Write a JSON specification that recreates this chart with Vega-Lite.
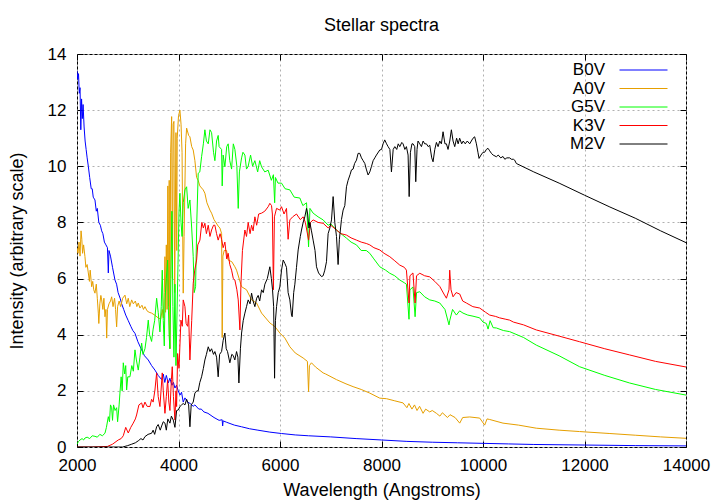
{
"$schema":"https://vega.github.io/schema/vega-lite/v6.json",
"width":609,"height":393,
"autosize":{"type":"none"},
"padding":{"left":77,"top":54,"right":34,"bottom":57},
"background":"white",
"title":{"text":"Stellar spectra","fontSize":18,"fontWeight":"normal","font":"Liberation Sans","color":"black","offset":10},
"datasets":{"spectra":[
{"s":"B0V","w":2000,"f":13.4},{"s":"B0V","w":2015,"f":13.1},{"s":"B0V","w":2030,"f":13.3},{"s":"B0V","w":2045,"f":12.6},{"s":"B0V","w":2060,"f":12.8},{"s":"B0V","w":2075,"f":11.3},{"s":"B0V","w":2090,"f":12.4},{"s":"B0V","w":2105,"f":11.7},{"s":"B0V","w":2120,"f":12.2},{"s":"B0V","w":2140,"f":11.4},{"s":"B0V","w":2160,"f":10.9},{"s":"B0V","w":2180,"f":10.6},{"s":"B0V","w":2200,"f":10.3},{"s":"B0V","w":2223,"f":10.0},{"s":"B0V","w":2250,"f":9.6},{"s":"B0V","w":2280,"f":9.2},{"s":"B0V","w":2300,"f":9.2},{"s":"B0V","w":2320,"f":8.9},{"s":"B0V","w":2354,"f":8.8},{"s":"B0V","w":2380,"f":8.4},{"s":"B0V","w":2400,"f":8.5},{"s":"B0V","w":2430,"f":8.0},{"s":"B0V","w":2460,"f":7.9},{"s":"B0V","w":2486,"f":7.7},{"s":"B0V","w":2510,"f":7.6},{"s":"B0V","w":2540,"f":7.3},{"s":"B0V","w":2570,"f":7.2},{"s":"B0V","w":2600,"f":7.1},{"s":"B0V","w":2617,"f":6.2},{"s":"B0V","w":2630,"f":7.0},{"s":"B0V","w":2660,"f":6.8},{"s":"B0V","w":2700,"f":6.4},{"s":"B0V","w":2748,"f":5.95},{"s":"B0V","w":2780,"f":5.8},{"s":"B0V","w":2810,"f":5.5},{"s":"B0V","w":2850,"f":5.3},{"s":"B0V","w":2880,"f":5.1},{"s":"B0V","w":2920,"f":4.9},{"s":"B0V","w":2960,"f":4.7},{"s":"B0V","w":3010,"f":4.5},{"s":"B0V","w":3060,"f":4.3},{"s":"B0V","w":3100,"f":4.15},{"s":"B0V","w":3142,"f":4.05},{"s":"B0V","w":3200,"f":3.75},{"s":"B0V","w":3274,"f":3.46},{"s":"B0V","w":3330,"f":3.25},{"s":"B0V","w":3404,"f":3.1},{"s":"B0V","w":3470,"f":2.9},{"s":"B0V","w":3536,"f":2.74},{"s":"B0V","w":3600,"f":2.55},{"s":"B0V","w":3668,"f":2.4},{"s":"B0V","w":3700,"f":2.6},{"s":"B0V","w":3730,"f":2.3},{"s":"B0V","w":3760,"f":2.55},{"s":"B0V","w":3798,"f":2.28},{"s":"B0V","w":3830,"f":2.45},{"s":"B0V","w":3870,"f":2.2},{"s":"B0V","w":3900,"f":2.3},{"s":"B0V","w":3930,"f":2.1},{"s":"B0V","w":3960,"f":2.2},{"s":"B0V","w":3995,"f":2.0},{"s":"B0V","w":4030,"f":1.85},{"s":"B0V","w":4060,"f":1.95},{"s":"B0V","w":4093,"f":1.6},{"s":"B0V","w":4127,"f":1.75},{"s":"B0V","w":4180,"f":1.6},{"s":"B0V","w":4230,"f":1.55},{"s":"B0V","w":4290,"f":1.45},{"s":"B0V","w":4323,"f":1.5},{"s":"B0V","w":4400,"f":1.35},{"s":"B0V","w":4450,"f":1.35},{"s":"B0V","w":4500,"f":1.25},{"s":"B0V","w":4580,"f":1.2},{"s":"B0V","w":4700,"f":1.05},{"s":"B0V","w":4800,"f":0.95},{"s":"B0V","w":4860,"f":0.97},{"s":"B0V","w":4870,"f":0.75},{"s":"B0V","w":4880,"f":0.93},{"s":"B0V","w":4950,"f":0.88},{"s":"B0V","w":5100,"f":0.78},{"s":"B0V","w":5243,"f":0.72},{"s":"B0V","w":5400,"f":0.65},{"s":"B0V","w":5564,"f":0.6},{"s":"B0V","w":5800,"f":0.53},{"s":"B0V","w":6030,"f":0.48},{"s":"B0V","w":6300,"f":0.43},{"s":"B0V","w":6560,"f":0.4},{"s":"B0V","w":7000,"f":0.36},{"s":"B0V","w":7500,"f":0.3},{"s":"B0V","w":8000,"f":0.25},{"s":"B0V","w":8500,"f":0.2},{"s":"B0V","w":9000,"f":0.17},{"s":"B0V","w":9500,"f":0.15},{"s":"B0V","w":10000,"f":0.13},{"s":"B0V","w":10500,"f":0.11},{"s":"B0V","w":11000,"f":0.09},{"s":"B0V","w":12000,"f":0.07},{"s":"B0V","w":13000,"f":0.05},{"s":"B0V","w":14000,"f":0.04},
{"s":"A0V","w":2000,"f":7.1},{"s":"A0V","w":2020,"f":6.9},{"s":"A0V","w":2040,"f":7.3},{"s":"A0V","w":2060,"f":6.8},{"s":"A0V","w":2080,"f":7.7},{"s":"A0V","w":2095,"f":7.4},{"s":"A0V","w":2110,"f":6.9},{"s":"A0V","w":2130,"f":7.2},{"s":"A0V","w":2157,"f":6.78},{"s":"A0V","w":2175,"f":6.4},{"s":"A0V","w":2200,"f":6.5},{"s":"A0V","w":2223,"f":6.2},{"s":"A0V","w":2245,"f":5.9},{"s":"A0V","w":2260,"f":6.3},{"s":"A0V","w":2289,"f":5.71},{"s":"A0V","w":2310,"f":5.9},{"s":"A0V","w":2330,"f":5.6},{"s":"A0V","w":2354,"f":5.48},{"s":"A0V","w":2380,"f":5.8},{"s":"A0V","w":2400,"f":5.3},{"s":"A0V","w":2420,"f":4.77},{"s":"A0V","w":2430,"f":4.4},{"s":"A0V","w":2450,"f":5.1},{"s":"A0V","w":2470,"f":5.4},{"s":"A0V","w":2486,"f":5.24},{"s":"A0V","w":2510,"f":4.9},{"s":"A0V","w":2530,"f":5.3},{"s":"A0V","w":2551,"f":4.64},{"s":"A0V","w":2570,"f":4.9},{"s":"A0V","w":2585,"f":3.88},{"s":"A0V","w":2600,"f":4.9},{"s":"A0V","w":2630,"f":5.1},{"s":"A0V","w":2660,"f":5.2},{"s":"A0V","w":2683,"f":5.35},{"s":"A0V","w":2710,"f":5.0},{"s":"A0V","w":2740,"f":5.3},{"s":"A0V","w":2760,"f":4.9},{"s":"A0V","w":2781,"f":4.28},{"s":"A0V","w":2800,"f":5.0},{"s":"A0V","w":2830,"f":5.2},{"s":"A0V","w":2860,"f":5.0},{"s":"A0V","w":2900,"f":5.3},{"s":"A0V","w":2945,"f":5.41},{"s":"A0V","w":2980,"f":5.1},{"s":"A0V","w":3010,"f":5.3},{"s":"A0V","w":3040,"f":5.0},{"s":"A0V","w":3077,"f":5.24},{"s":"A0V","w":3110,"f":5.1},{"s":"A0V","w":3150,"f":5.2},{"s":"A0V","w":3180,"f":5.0},{"s":"A0V","w":3207,"f":5.13},{"s":"A0V","w":3240,"f":4.95},{"s":"A0V","w":3280,"f":5.05},{"s":"A0V","w":3310,"f":4.9},{"s":"A0V","w":3339,"f":5.0},{"s":"A0V","w":3380,"f":4.85},{"s":"A0V","w":3420,"f":4.8},{"s":"A0V","w":3470,"f":4.77},{"s":"A0V","w":3530,"f":4.7},{"s":"A0V","w":3600,"f":4.6},{"s":"A0V","w":3650,"f":4.55},{"s":"A0V","w":3680,"f":4.9},{"s":"A0V","w":3700,"f":4.6},{"s":"A0V","w":3720,"f":5.5},{"s":"A0V","w":3733,"f":6.78},{"s":"A0V","w":3745,"f":4.8},{"s":"A0V","w":3760,"f":7.2},{"s":"A0V","w":3775,"f":4.9},{"s":"A0V","w":3790,"f":9.3},{"s":"A0V","w":3805,"f":5.0},{"s":"A0V","w":3817,"f":9.5},{"s":"A0V","w":3830,"f":3.5},{"s":"A0V","w":3845,"f":10.5},{"s":"A0V","w":3865,"f":11.77},{"s":"A0V","w":3880,"f":6.0},{"s":"A0V","w":3895,"f":11.5},{"s":"A0V","w":3910,"f":11.6},{"s":"A0V","w":3925,"f":5.5},{"s":"A0V","w":3950,"f":11.2},{"s":"A0V","w":3965,"f":7.0},{"s":"A0V","w":3975,"f":11.0},{"s":"A0V","w":4000,"f":11.8},{"s":"A0V","w":4028,"f":12.0},{"s":"A0V","w":4050,"f":11.5},{"s":"A0V","w":4070,"f":10.5},{"s":"A0V","w":4093,"f":5.48},{"s":"A0V","w":4110,"f":7.5},{"s":"A0V","w":4140,"f":10.8},{"s":"A0V","w":4160,"f":11.36},{"s":"A0V","w":4200,"f":11.1},{"s":"A0V","w":4225,"f":11.05},{"s":"A0V","w":4260,"f":10.7},{"s":"A0V","w":4290,"f":10.58},{"s":"A0V","w":4323,"f":10.2},{"s":"A0V","w":4357,"f":9.6},{"s":"A0V","w":4388,"f":9.5},{"s":"A0V","w":4420,"f":9.3},{"s":"A0V","w":4487,"f":9.16},{"s":"A0V","w":4520,"f":9.04},{"s":"A0V","w":4560,"f":8.7},{"s":"A0V","w":4619,"f":8.44},{"s":"A0V","w":4652,"f":8.33},{"s":"A0V","w":4700,"f":8.1},{"s":"A0V","w":4782,"f":7.87},{"s":"A0V","w":4816,"f":7.8},{"s":"A0V","w":4850,"f":7.6},{"s":"A0V","w":4861,"f":3.9},{"s":"A0V","w":4875,"f":6.8},{"s":"A0V","w":4900,"f":7.0},{"s":"A0V","w":4947,"f":7.0},{"s":"A0V","w":4979,"f":6.66},{"s":"A0V","w":5050,"f":6.6},{"s":"A0V","w":5111,"f":6.42},{"s":"A0V","w":5144,"f":6.3},{"s":"A0V","w":5243,"f":5.71},{"s":"A0V","w":5341,"f":5.6},{"s":"A0V","w":5440,"f":5.24},{"s":"A0V","w":5538,"f":5.13},{"s":"A0V","w":5637,"f":4.77},{"s":"A0V","w":5800,"f":4.42},{"s":"A0V","w":5899,"f":4.29},{"s":"A0V","w":5997,"f":4.06},{"s":"A0V","w":6096,"f":3.88},{"s":"A0V","w":6194,"f":3.57},{"s":"A0V","w":6300,"f":3.35},{"s":"A0V","w":6456,"f":3.17},{"s":"A0V","w":6540,"f":3.05},{"s":"A0V","w":6563,"f":1.97},{"s":"A0V","w":6580,"f":2.9},{"s":"A0V","w":6620,"f":3.0},{"s":"A0V","w":6700,"f":2.85},{"s":"A0V","w":6850,"f":2.64},{"s":"A0V","w":6900,"f":2.6},{"s":"A0V","w":7113,"f":2.4},{"s":"A0V","w":7300,"f":2.25},{"s":"A0V","w":7440,"f":2.15},{"s":"A0V","w":7600,"f":2.05},{"s":"A0V","w":7769,"f":1.92},{"s":"A0V","w":7966,"f":1.74},{"s":"A0V","w":8100,"f":1.72},{"s":"A0V","w":8250,"f":1.65},{"s":"A0V","w":8425,"f":1.57},{"s":"A0V","w":8500,"f":1.4},{"s":"A0V","w":8540,"f":1.55},{"s":"A0V","w":8600,"f":1.35},{"s":"A0V","w":8650,"f":1.5},{"s":"A0V","w":8700,"f":1.3},{"s":"A0V","w":8750,"f":1.45},{"s":"A0V","w":8819,"f":1.2},{"s":"A0V","w":8870,"f":1.35},{"s":"A0V","w":8950,"f":1.25},{"s":"A0V","w":9000,"f":1.3},{"s":"A0V","w":9082,"f":1.2},{"s":"A0V","w":9150,"f":1.1},{"s":"A0V","w":9200,"f":1.22},{"s":"A0V","w":9300,"f":1.05},{"s":"A0V","w":9350,"f":1.15},{"s":"A0V","w":9450,"f":1.05},{"s":"A0V","w":9541,"f":0.85},{"s":"A0V","w":9600,"f":1.05},{"s":"A0V","w":9738,"f":1.07},{"s":"A0V","w":9935,"f":1.03},{"s":"A0V","w":10033,"f":0.78},{"s":"A0V","w":10080,"f":1.0},{"s":"A0V","w":10132,"f":0.98},{"s":"A0V","w":10394,"f":0.85},{"s":"A0V","w":10700,"f":0.78},{"s":"A0V","w":11050,"f":0.67},{"s":"A0V","w":11500,"f":0.6},{"s":"A0V","w":11903,"f":0.55},{"s":"A0V","w":12500,"f":0.48},{"s":"A0V","w":13000,"f":0.42},{"s":"A0V","w":13500,"f":0.36},{"s":"A0V","w":14000,"f":0.31},
{"s":"G5V","w":2000,"f":0.1},{"s":"G5V","w":2030,"f":0.2},{"s":"G5V","w":2060,"f":0.25},{"s":"G5V","w":2100,"f":0.3},{"s":"G5V","w":2130,"f":0.25},{"s":"G5V","w":2157,"f":0.32},{"s":"G5V","w":2200,"f":0.35},{"s":"G5V","w":2250,"f":0.3},{"s":"G5V","w":2300,"f":0.4},{"s":"G5V","w":2354,"f":0.38},{"s":"G5V","w":2400,"f":0.35},{"s":"G5V","w":2450,"f":0.45},{"s":"G5V","w":2500,"f":0.4},{"s":"G5V","w":2551,"f":0.49},{"s":"G5V","w":2580,"f":0.7},{"s":"G5V","w":2617,"f":1.08},{"s":"G5V","w":2640,"f":0.9},{"s":"G5V","w":2660,"f":1.5},{"s":"G5V","w":2683,"f":1.4},{"s":"G5V","w":2700,"f":0.95},{"s":"G5V","w":2720,"f":1.5},{"s":"G5V","w":2750,"f":1.3},{"s":"G5V","w":2781,"f":1.4},{"s":"G5V","w":2800,"f":0.9},{"s":"G5V","w":2830,"f":1.5},{"s":"G5V","w":2846,"f":1.92},{"s":"G5V","w":2870,"f":2.5},{"s":"G5V","w":2890,"f":2.0},{"s":"G5V","w":2912,"f":3.0},{"s":"G5V","w":2940,"f":2.6},{"s":"G5V","w":2960,"f":2.9},{"s":"G5V","w":2978,"f":2.03},{"s":"G5V","w":3000,"f":2.5},{"s":"G5V","w":3043,"f":2.5},{"s":"G5V","w":3080,"f":2.9},{"s":"G5V","w":3110,"f":2.7},{"s":"G5V","w":3142,"f":3.46},{"s":"G5V","w":3170,"f":3.1},{"s":"G5V","w":3207,"f":2.74},{"s":"G5V","w":3240,"f":3.2},{"s":"G5V","w":3274,"f":3.7},{"s":"G5V","w":3300,"f":3.3},{"s":"G5V","w":3339,"f":3.5},{"s":"G5V","w":3370,"f":3.9},{"s":"G5V","w":3404,"f":4.52},{"s":"G5V","w":3430,"f":4.0},{"s":"G5V","w":3470,"f":3.76},{"s":"G5V","w":3500,"f":4.2},{"s":"G5V","w":3530,"f":4.5},{"s":"G5V","w":3569,"f":5.3},{"s":"G5V","w":3600,"f":4.8},{"s":"G5V","w":3634,"f":4.1},{"s":"G5V","w":3660,"f":5.0},{"s":"G5V","w":3680,"f":6.3},{"s":"G5V","w":3700,"f":4.5},{"s":"G5V","w":3720,"f":3.6},{"s":"G5V","w":3733,"f":5.2},{"s":"G5V","w":3760,"f":6.0},{"s":"G5V","w":3786,"f":6.66},{"s":"G5V","w":3800,"f":5.0},{"s":"G5V","w":3815,"f":4.0},{"s":"G5V","w":3831,"f":3.5},{"s":"G5V","w":3850,"f":6.0},{"s":"G5V","w":3870,"f":8.4},{"s":"G5V","w":3890,"f":5.0},{"s":"G5V","w":3910,"f":3.2},{"s":"G5V","w":3930,"f":5.8},{"s":"G5V","w":3950,"f":2.9},{"s":"G5V","w":3963,"f":4.06},{"s":"G5V","w":3990,"f":6.5},{"s":"G5V","w":4010,"f":8.4},{"s":"G5V","w":4028,"f":9.04},{"s":"G5V","w":4050,"f":8.0},{"s":"G5V","w":4070,"f":7.5},{"s":"G5V","w":4093,"f":8.7},{"s":"G5V","w":4127,"f":9.16},{"s":"G5V","w":4160,"f":9.27},{"s":"G5V","w":4190,"f":8.5},{"s":"G5V","w":4225,"f":8.8},{"s":"G5V","w":4260,"f":7.8},{"s":"G5V","w":4290,"f":6.78},{"s":"G5V","w":4310,"f":5.5},{"s":"G5V","w":4337,"f":5.71},{"s":"G5V","w":4360,"f":8.0},{"s":"G5V","w":4388,"f":9.75},{"s":"G5V","w":4420,"f":9.8},{"s":"G5V","w":4455,"f":10.34},{"s":"G5V","w":4490,"f":10.8},{"s":"G5V","w":4520,"f":11.3},{"s":"G5V","w":4550,"f":10.9},{"s":"G5V","w":4586,"f":10.8},{"s":"G5V","w":4620,"f":11.3},{"s":"G5V","w":4652,"f":11.2},{"s":"G5V","w":4690,"f":10.5},{"s":"G5V","w":4717,"f":10.2},{"s":"G5V","w":4750,"f":10.9},{"s":"G5V","w":4782,"f":11.1},{"s":"G5V","w":4800,"f":10.7},{"s":"G5V","w":4849,"f":10.6},{"s":"G5V","w":4861,"f":9.3},{"s":"G5V","w":4880,"f":10.4},{"s":"G5V","w":4914,"f":9.98},{"s":"G5V","w":4950,"f":10.7},{"s":"G5V","w":4979,"f":10.8},{"s":"G5V","w":5010,"f":10.2},{"s":"G5V","w":5046,"f":9.9},{"s":"G5V","w":5080,"f":10.8},{"s":"G5V","w":5111,"f":10.6},{"s":"G5V","w":5150,"f":10.0},{"s":"G5V","w":5177,"f":8.5},{"s":"G5V","w":5200,"f":9.8},{"s":"G5V","w":5243,"f":10.3},{"s":"G5V","w":5270,"f":10.5},{"s":"G5V","w":5308,"f":10.4},{"s":"G5V","w":5340,"f":9.9},{"s":"G5V","w":5373,"f":10.0},{"s":"G5V","w":5420,"f":10.4},{"s":"G5V","w":5460,"f":10.0},{"s":"G5V","w":5505,"f":10.2},{"s":"G5V","w":5560,"f":9.8},{"s":"G5V","w":5600,"f":10.2},{"s":"G5V","w":5637,"f":9.98},{"s":"G5V","w":5700,"f":9.8},{"s":"G5V","w":5767,"f":9.86},{"s":"G5V","w":5830,"f":9.5},{"s":"G5V","w":5870,"f":9.7},{"s":"G5V","w":5895,"f":8.7},{"s":"G5V","w":5910,"f":9.6},{"s":"G5V","w":5960,"f":9.4},{"s":"G5V","w":6030,"f":9.4},{"s":"G5V","w":6100,"f":9.2},{"s":"G5V","w":6194,"f":9.16},{"s":"G5V","w":6280,"f":8.9},{"s":"G5V","w":6391,"f":8.87},{"s":"G5V","w":6450,"f":8.6},{"s":"G5V","w":6523,"f":8.7},{"s":"G5V","w":6563,"f":7.13},{"s":"G5V","w":6590,"f":8.5},{"s":"G5V","w":6653,"f":8.33},{"s":"G5V","w":6750,"f":8.2},{"s":"G5V","w":6850,"f":8.09},{"s":"G5V","w":6950,"f":7.9},{"s":"G5V","w":7000,"f":7.95},{"s":"G5V","w":7113,"f":7.73},{"s":"G5V","w":7200,"f":7.6},{"s":"G5V","w":7310,"f":7.44},{"s":"G5V","w":7400,"f":7.3},{"s":"G5V","w":7507,"f":7.2},{"s":"G5V","w":7600,"f":7.0},{"s":"G5V","w":7700,"f":7.0},{"s":"G5V","w":7769,"f":6.9},{"s":"G5V","w":7850,"f":6.7},{"s":"G5V","w":7966,"f":6.42},{"s":"G5V","w":8080,"f":6.3},{"s":"G5V","w":8163,"f":6.19},{"s":"G5V","w":8260,"f":6.1},{"s":"G5V","w":8360,"f":5.95},{"s":"G5V","w":8450,"f":5.85},{"s":"G5V","w":8491,"f":5.8},{"s":"G5V","w":8542,"f":4.55},{"s":"G5V","w":8560,"f":5.6},{"s":"G5V","w":8620,"f":5.7},{"s":"G5V","w":8662,"f":4.64},{"s":"G5V","w":8690,"f":5.5},{"s":"G5V","w":8754,"f":5.53},{"s":"G5V","w":8850,"f":5.35},{"s":"G5V","w":8951,"f":5.24},{"s":"G5V","w":9050,"f":5.2},{"s":"G5V","w":9148,"f":5.13},{"s":"G5V","w":9250,"f":4.9},{"s":"G5V","w":9330,"f":4.35},{"s":"G5V","w":9344,"f":4.5},{"s":"G5V","w":9400,"f":4.9},{"s":"G5V","w":9475,"f":4.7},{"s":"G5V","w":9540,"f":4.85},{"s":"G5V","w":9606,"f":4.77},{"s":"G5V","w":9700,"f":4.7},{"s":"G5V","w":9803,"f":4.66},{"s":"G5V","w":9935,"f":4.6},{"s":"G5V","w":10000,"f":4.45},{"s":"G5V","w":10066,"f":4.4},{"s":"G5V","w":10100,"f":4.2},{"s":"G5V","w":10140,"f":4.5},{"s":"G5V","w":10200,"f":4.25},{"s":"G5V","w":10263,"f":4.24},{"s":"G5V","w":10400,"f":4.15},{"s":"G5V","w":10525,"f":4.11},{"s":"G5V","w":10800,"f":3.9},{"s":"G5V","w":11050,"f":3.63},{"s":"G5V","w":11500,"f":3.25},{"s":"G5V","w":11903,"f":2.86},{"s":"G5V","w":12400,"f":2.55},{"s":"G5V","w":12889,"f":2.28},{"s":"G5V","w":13400,"f":2.05},{"s":"G5V","w":14000,"f":1.85},
{"s":"K3V","w":2000,"f":0.0},{"s":"K3V","w":2300,"f":0.0},{"s":"K3V","w":2600,"f":0.02},{"s":"K3V","w":2700,"f":0.1},{"s":"K3V","w":2813,"f":0.25},{"s":"K3V","w":2870,"f":0.3},{"s":"K3V","w":2912,"f":0.4},{"s":"K3V","w":2960,"f":0.7},{"s":"K3V","w":3010,"f":0.5},{"s":"K3V","w":3060,"f":0.7},{"s":"K3V","w":3108,"f":0.85},{"s":"K3V","w":3150,"f":1.0},{"s":"K3V","w":3174,"f":1.14},{"s":"K3V","w":3220,"f":1.5},{"s":"K3V","w":3274,"f":1.57},{"s":"K3V","w":3300,"f":1.4},{"s":"K3V","w":3339,"f":1.6},{"s":"K3V","w":3380,"f":1.45},{"s":"K3V","w":3437,"f":1.44},{"s":"K3V","w":3470,"f":1.7},{"s":"K3V","w":3500,"f":1.6},{"s":"K3V","w":3536,"f":2.03},{"s":"K3V","w":3569,"f":2.64},{"s":"K3V","w":3600,"f":1.8},{"s":"K3V","w":3634,"f":1.44},{"s":"K3V","w":3680,"f":2.64},{"s":"K3V","w":3700,"f":2.0},{"s":"K3V","w":3733,"f":1.2},{"s":"K3V","w":3760,"f":1.8},{"s":"K3V","w":3786,"f":2.39},{"s":"K3V","w":3810,"f":1.6},{"s":"K3V","w":3831,"f":1.3},{"s":"K3V","w":3860,"f":2.4},{"s":"K3V","w":3877,"f":2.86},{"s":"K3V","w":3900,"f":1.8},{"s":"K3V","w":3930,"f":0.96},{"s":"K3V","w":3950,"f":2.0},{"s":"K3V","w":3963,"f":1.44},{"s":"K3V","w":3983,"f":3.33},{"s":"K3V","w":4010,"f":2.8},{"s":"K3V","w":4048,"f":4.52},{"s":"K3V","w":4074,"f":4.3},{"s":"K3V","w":4093,"f":5.24},{"s":"K3V","w":4127,"f":5.0},{"s":"K3V","w":4150,"f":4.4},{"s":"K3V","w":4180,"f":4.3},{"s":"K3V","w":4200,"f":4.7},{"s":"K3V","w":4225,"f":3.1},{"s":"K3V","w":4260,"f":4.5},{"s":"K3V","w":4290,"f":5.83},{"s":"K3V","w":4320,"f":6.3},{"s":"K3V","w":4357,"f":6.66},{"s":"K3V","w":4380,"f":7.2},{"s":"K3V","w":4422,"f":7.37},{"s":"K3V","w":4460,"f":8.0},{"s":"K3V","w":4490,"f":7.8},{"s":"K3V","w":4520,"f":7.97},{"s":"K3V","w":4550,"f":7.6},{"s":"K3V","w":4586,"f":7.9},{"s":"K3V","w":4620,"f":7.5},{"s":"K3V","w":4652,"f":7.73},{"s":"K3V","w":4690,"f":7.9},{"s":"K3V","w":4717,"f":7.9},{"s":"K3V","w":4750,"f":7.6},{"s":"K3V","w":4782,"f":7.37},{"s":"K3V","w":4820,"f":7.6},{"s":"K3V","w":4849,"f":7.4},{"s":"K3V","w":4880,"f":7.1},{"s":"K3V","w":4914,"f":7.3},{"s":"K3V","w":4950,"f":6.7},{"s":"K3V","w":4979,"f":6.9},{"s":"K3V","w":5010,"f":6.5},{"s":"K3V","w":5046,"f":6.3},{"s":"K3V","w":5080,"f":6.0},{"s":"K3V","w":5111,"f":5.95},{"s":"K3V","w":5150,"f":5.6},{"s":"K3V","w":5177,"f":5.24},{"s":"K3V","w":5210,"f":4.17},{"s":"K3V","w":5230,"f":5.8},{"s":"K3V","w":5260,"f":7.0},{"s":"K3V","w":5308,"f":7.73},{"s":"K3V","w":5340,"f":7.5},{"s":"K3V","w":5373,"f":8.0},{"s":"K3V","w":5410,"f":7.6},{"s":"K3V","w":5440,"f":7.9},{"s":"K3V","w":5470,"f":7.7},{"s":"K3V","w":5505,"f":8.2},{"s":"K3V","w":5540,"f":7.9},{"s":"K3V","w":5580,"f":8.3},{"s":"K3V","w":5637,"f":8.33},{"s":"K3V","w":5700,"f":8.4},{"s":"K3V","w":5767,"f":8.56},{"s":"K3V","w":5800,"f":8.68},{"s":"K3V","w":5833,"f":8.6},{"s":"K3V","w":5850,"f":8.3},{"s":"K3V","w":5870,"f":5.6},{"s":"K3V","w":5890,"f":8.2},{"s":"K3V","w":5932,"f":8.5},{"s":"K3V","w":5997,"f":8.44},{"s":"K3V","w":6030,"f":8.56},{"s":"K3V","w":6080,"f":8.3},{"s":"K3V","w":6128,"f":8.5},{"s":"K3V","w":6160,"f":7.4},{"s":"K3V","w":6194,"f":8.09},{"s":"K3V","w":6250,"f":8.2},{"s":"K3V","w":6325,"f":8.3},{"s":"K3V","w":6400,"f":8.1},{"s":"K3V","w":6456,"f":8.2},{"s":"K3V","w":6500,"f":8.0},{"s":"K3V","w":6563,"f":7.37},{"s":"K3V","w":6600,"f":8.0},{"s":"K3V","w":6653,"f":8.09},{"s":"K3V","w":6750,"f":8.0},{"s":"K3V","w":6850,"f":7.97},{"s":"K3V","w":6950,"f":7.8},{"s":"K3V","w":7000,"f":7.9},{"s":"K3V","w":7113,"f":7.73},{"s":"K3V","w":7200,"f":7.6},{"s":"K3V","w":7310,"f":7.55},{"s":"K3V","w":7400,"f":7.45},{"s":"K3V","w":7507,"f":7.37},{"s":"K3V","w":7600,"f":7.3},{"s":"K3V","w":7700,"f":7.25},{"s":"K3V","w":7769,"f":7.2},{"s":"K3V","w":7850,"f":7.1},{"s":"K3V","w":7966,"f":7.02},{"s":"K3V","w":8050,"f":6.9},{"s":"K3V","w":8163,"f":6.78},{"s":"K3V","w":8250,"f":6.65},{"s":"K3V","w":8360,"f":6.48},{"s":"K3V","w":8450,"f":6.4},{"s":"K3V","w":8491,"f":6.3},{"s":"K3V","w":8542,"f":5.13},{"s":"K3V","w":8560,"f":6.1},{"s":"K3V","w":8620,"f":6.2},{"s":"K3V","w":8662,"f":5.13},{"s":"K3V","w":8690,"f":6.1},{"s":"K3V","w":8754,"f":6.19},{"s":"K3V","w":8850,"f":6.1},{"s":"K3V","w":8951,"f":6.06},{"s":"K3V","w":9050,"f":5.9},{"s":"K3V","w":9148,"f":5.72},{"s":"K3V","w":9230,"f":5.45},{"s":"K3V","w":9279,"f":5.3},{"s":"K3V","w":9330,"f":5.6},{"s":"K3V","w":9344,"f":6.3},{"s":"K3V","w":9370,"f":5.6},{"s":"K3V","w":9410,"f":5.35},{"s":"K3V","w":9470,"f":5.5},{"s":"K3V","w":9541,"f":5.45},{"s":"K3V","w":9600,"f":5.2},{"s":"K3V","w":9672,"f":5.13},{"s":"K3V","w":9800,"f":5.0},{"s":"K3V","w":9935,"f":4.95},{"s":"K3V","w":10050,"f":4.8},{"s":"K3V","w":10132,"f":4.7},{"s":"K3V","w":10250,"f":4.65},{"s":"K3V","w":10328,"f":4.6},{"s":"K3V","w":10450,"f":4.55},{"s":"K3V","w":10525,"f":4.52},{"s":"K3V","w":10600,"f":4.45},{"s":"K3V","w":10800,"f":4.35},{"s":"K3V","w":11050,"f":4.17},{"s":"K3V","w":11500,"f":3.95},{"s":"K3V","w":11903,"f":3.75},{"s":"K3V","w":12400,"f":3.5},{"s":"K3V","w":12889,"f":3.28},{"s":"K3V","w":13400,"f":3.05},{"s":"K3V","w":14000,"f":2.85},
{"s":"M2V","w":2000,"f":0.0},{"s":"M2V","w":2900,"f":0.0},{"s":"M2V","w":3000,"f":0.05},{"s":"M2V","w":3077,"f":0.1},{"s":"M2V","w":3150,"f":0.15},{"s":"M2V","w":3207,"f":0.22},{"s":"M2V","w":3260,"f":0.3},{"s":"M2V","w":3300,"f":0.25},{"s":"M2V","w":3339,"f":0.37},{"s":"M2V","w":3400,"f":0.45},{"s":"M2V","w":3470,"f":0.49},{"s":"M2V","w":3500,"f":0.6},{"s":"M2V","w":3530,"f":0.45},{"s":"M2V","w":3569,"f":0.72},{"s":"M2V","w":3600,"f":0.8},{"s":"M2V","w":3640,"f":0.6},{"s":"M2V","w":3668,"f":0.75},{"s":"M2V","w":3700,"f":0.9},{"s":"M2V","w":3733,"f":0.85},{"s":"M2V","w":3760,"f":0.6},{"s":"M2V","w":3790,"f":1.0},{"s":"M2V","w":3831,"f":0.85},{"s":"M2V","w":3860,"f":1.1},{"s":"M2V","w":3897,"f":0.96},{"s":"M2V","w":3930,"f":0.7},{"s":"M2V","w":3963,"f":1.3},{"s":"M2V","w":3995,"f":1.32},{"s":"M2V","w":4028,"f":1.44},{"s":"M2V","w":4061,"f":1.5},{"s":"M2V","w":4093,"f":1.55},{"s":"M2V","w":4127,"f":1.5},{"s":"M2V","w":4160,"f":1.7},{"s":"M2V","w":4200,"f":1.5},{"s":"M2V","w":4225,"f":0.72},{"s":"M2V","w":4250,"f":1.5},{"s":"M2V","w":4290,"f":1.6},{"s":"M2V","w":4323,"f":1.92},{"s":"M2V","w":4360,"f":2.0},{"s":"M2V","w":4388,"f":2.0},{"s":"M2V","w":4420,"f":2.3},{"s":"M2V","w":4455,"f":2.5},{"s":"M2V","w":4490,"f":2.8},{"s":"M2V","w":4520,"f":3.1},{"s":"M2V","w":4550,"f":3.3},{"s":"M2V","w":4586,"f":3.57},{"s":"M2V","w":4620,"f":3.4},{"s":"M2V","w":4652,"f":3.5},{"s":"M2V","w":4690,"f":3.3},{"s":"M2V","w":4717,"f":3.4},{"s":"M2V","w":4750,"f":3.2},{"s":"M2V","w":4782,"f":2.5},{"s":"M2V","w":4810,"f":3.3},{"s":"M2V","w":4849,"f":3.4},{"s":"M2V","w":4880,"f":3.8},{"s":"M2V","w":4914,"f":4.06},{"s":"M2V","w":4940,"f":3.5},{"s":"M2V","w":4966,"f":3.4},{"s":"M2V","w":5012,"f":3.0},{"s":"M2V","w":5050,"f":3.3},{"s":"M2V","w":5078,"f":3.26},{"s":"M2V","w":5110,"f":3.1},{"s":"M2V","w":5144,"f":3.4},{"s":"M2V","w":5170,"f":3.2},{"s":"M2V","w":5190,"f":2.28},{"s":"M2V","w":5220,"f":3.5},{"s":"M2V","w":5243,"f":4.06},{"s":"M2V","w":5275,"f":4.5},{"s":"M2V","w":5308,"f":4.77},{"s":"M2V","w":5340,"f":5.0},{"s":"M2V","w":5373,"f":5.24},{"s":"M2V","w":5410,"f":5.1},{"s":"M2V","w":5440,"f":5.48},{"s":"M2V","w":5470,"f":5.2},{"s":"M2V","w":5505,"f":5.0},{"s":"M2V","w":5540,"f":5.3},{"s":"M2V","w":5570,"f":5.4},{"s":"M2V","w":5600,"f":5.2},{"s":"M2V","w":5637,"f":5.6},{"s":"M2V","w":5670,"f":5.5},{"s":"M2V","w":5702,"f":5.8},{"s":"M2V","w":5750,"f":6.0},{"s":"M2V","w":5800,"f":6.42},{"s":"M2V","w":5830,"f":6.0},{"s":"M2V","w":5853,"f":5.6},{"s":"M2V","w":5875,"f":5.0},{"s":"M2V","w":5893,"f":2.45},{"s":"M2V","w":5910,"f":4.5},{"s":"M2V","w":5932,"f":5.0},{"s":"M2V","w":5965,"f":5.5},{"s":"M2V","w":5997,"f":5.7},{"s":"M2V","w":6030,"f":6.3},{"s":"M2V","w":6063,"f":6.66},{"s":"M2V","w":6096,"f":6.54},{"s":"M2V","w":6128,"f":6.4},{"s":"M2V","w":6160,"f":5.5},{"s":"M2V","w":6194,"f":5.24},{"s":"M2V","w":6227,"f":4.7},{"s":"M2V","w":6240,"f":4.64},{"s":"M2V","w":6270,"f":5.5},{"s":"M2V","w":6293,"f":5.8},{"s":"M2V","w":6325,"f":6.4},{"s":"M2V","w":6358,"f":7.02},{"s":"M2V","w":6400,"f":7.5},{"s":"M2V","w":6424,"f":7.73},{"s":"M2V","w":6456,"f":8.0},{"s":"M2V","w":6489,"f":8.2},{"s":"M2V","w":6523,"f":8.5},{"s":"M2V","w":6545,"f":8.3},{"s":"M2V","w":6570,"f":7.8},{"s":"M2V","w":6588,"f":8.0},{"s":"M2V","w":6620,"f":7.7},{"s":"M2V","w":6653,"f":7.37},{"s":"M2V","w":6690,"f":7.0},{"s":"M2V","w":6719,"f":6.42},{"s":"M2V","w":6760,"f":6.2},{"s":"M2V","w":6818,"f":6.07},{"s":"M2V","w":6850,"f":6.1},{"s":"M2V","w":6883,"f":6.3},{"s":"M2V","w":6916,"f":6.6},{"s":"M2V","w":6948,"f":7.6},{"s":"M2V","w":6982,"f":7.8},{"s":"M2V","w":7015,"f":8.09},{"s":"M2V","w":7047,"f":8.92},{"s":"M2V","w":7080,"f":8.0},{"s":"M2V","w":7113,"f":7.5},{"s":"M2V","w":7145,"f":6.5},{"s":"M2V","w":7170,"f":7.4},{"s":"M2V","w":7211,"f":8.1},{"s":"M2V","w":7244,"f":8.44},{"s":"M2V","w":7277,"f":8.6},{"s":"M2V","w":7310,"f":9.27},{"s":"M2V","w":7342,"f":9.5},{"s":"M2V","w":7380,"f":9.7},{"s":"M2V","w":7408,"f":9.87},{"s":"M2V","w":7440,"f":9.9},{"s":"M2V","w":7470,"f":10.1},{"s":"M2V","w":7507,"f":10.22},{"s":"M2V","w":7539,"f":10.46},{"s":"M2V","w":7572,"f":10.46},{"s":"M2V","w":7605,"f":10.3},{"s":"M2V","w":7638,"f":10.2},{"s":"M2V","w":7671,"f":10.1},{"s":"M2V","w":7700,"f":9.9},{"s":"M2V","w":7736,"f":9.69},{"s":"M2V","w":7770,"f":9.8},{"s":"M2V","w":7803,"f":10.0},{"s":"M2V","w":7835,"f":10.2},{"s":"M2V","w":7868,"f":10.3},{"s":"M2V","w":7900,"f":10.4},{"s":"M2V","w":7966,"f":10.58},{"s":"M2V","w":8000,"f":10.6},{"s":"M2V","w":8031,"f":10.8},{"s":"M2V","w":8064,"f":10.94},{"s":"M2V","w":8100,"f":10.8},{"s":"M2V","w":8130,"f":10.7},{"s":"M2V","w":8165,"f":10.6},{"s":"M2V","w":8196,"f":9.8},{"s":"M2V","w":8230,"f":10.6},{"s":"M2V","w":8262,"f":10.7},{"s":"M2V","w":8300,"f":10.6},{"s":"M2V","w":8330,"f":10.8},{"s":"M2V","w":8360,"f":10.7},{"s":"M2V","w":8400,"f":10.85},{"s":"M2V","w":8425,"f":10.8},{"s":"M2V","w":8460,"f":10.6},{"s":"M2V","w":8491,"f":10.7},{"s":"M2V","w":8524,"f":10.4},{"s":"M2V","w":8545,"f":8.92},{"s":"M2V","w":8570,"f":10.5},{"s":"M2V","w":8600,"f":10.8},{"s":"M2V","w":8622,"f":10.8},{"s":"M2V","w":8655,"f":10.7},{"s":"M2V","w":8675,"f":9.45},{"s":"M2V","w":8700,"f":10.6},{"s":"M2V","w":8720,"f":10.9},{"s":"M2V","w":8754,"f":10.8},{"s":"M2V","w":8787,"f":10.7},{"s":"M2V","w":8820,"f":10.9},{"s":"M2V","w":8852,"f":10.8},{"s":"M2V","w":8885,"f":10.8},{"s":"M2V","w":8920,"f":10.7},{"s":"M2V","w":8951,"f":10.75},{"s":"M2V","w":8990,"f":10.3},{"s":"M2V","w":9016,"f":10.16},{"s":"M2V","w":9050,"f":10.6},{"s":"M2V","w":9082,"f":10.85},{"s":"M2V","w":9115,"f":10.7},{"s":"M2V","w":9148,"f":10.9},{"s":"M2V","w":9180,"f":10.8},{"s":"M2V","w":9213,"f":11.23},{"s":"M2V","w":9250,"f":10.8},{"s":"M2V","w":9279,"f":10.8},{"s":"M2V","w":9311,"f":10.6},{"s":"M2V","w":9345,"f":10.9},{"s":"M2V","w":9377,"f":11.3},{"s":"M2V","w":9410,"f":10.9},{"s":"M2V","w":9443,"f":10.7},{"s":"M2V","w":9480,"f":11.0},{"s":"M2V","w":9510,"f":10.8},{"s":"M2V","w":9540,"f":11.0},{"s":"M2V","w":9580,"f":10.8},{"s":"M2V","w":9610,"f":10.9},{"s":"M2V","w":9650,"f":10.8},{"s":"M2V","w":9690,"f":10.9},{"s":"M2V","w":9738,"f":10.8},{"s":"M2V","w":9770,"f":10.9},{"s":"M2V","w":9803,"f":11.0},{"s":"M2V","w":9836,"f":11.05},{"s":"M2V","w":9870,"f":10.8},{"s":"M2V","w":9900,"f":10.5},{"s":"M2V","w":9922,"f":10.28},{"s":"M2V","w":9960,"f":10.4},{"s":"M2V","w":10000,"f":10.5},{"s":"M2V","w":10033,"f":10.5},{"s":"M2V","w":10066,"f":10.6},{"s":"M2V","w":10099,"f":10.64},{"s":"M2V","w":10132,"f":10.55},{"s":"M2V","w":10170,"f":10.45},{"s":"M2V","w":10200,"f":10.4},{"s":"M2V","w":10263,"f":10.34},{"s":"M2V","w":10300,"f":10.4},{"s":"M2V","w":10350,"f":10.3},{"s":"M2V","w":10394,"f":10.35},{"s":"M2V","w":10430,"f":10.25},{"s":"M2V","w":10470,"f":10.3},{"s":"M2V","w":10525,"f":10.3},{"s":"M2V","w":10560,"f":10.25},{"s":"M2V","w":10600,"f":10.25},{"s":"M2V","w":10624,"f":10.22},{"s":"M2V","w":10657,"f":10.1},{"s":"M2V","w":11000,"f":9.8},{"s":"M2V","w":11500,"f":9.4},{"s":"M2V","w":12000,"f":8.97},{"s":"M2V","w":12500,"f":8.55},{"s":"M2V","w":13000,"f":8.15},{"s":"M2V","w":13500,"f":7.7},{"s":"M2V","w":14000,"f":7.28}
]},
"data":{"name":"spectra"},
"layer":[
{"mark":{"type":"line","strokeWidth":1,"clip":true},
"encoding":{
"x":{"field":"w","type":"quantitative","scale":{"domain":[2000,14000],"nice":false},"axis":{"title":"Wavelength (Angstroms)","values":[2000,4000,6000,8000,10000,12000,14000],"format":"d","labelFlush":false,"labelPadding":16,"titlePadding":8}},
"y":{"field":"f","type":"quantitative","scale":{"domain":[0,14],"nice":false,"zero":false},"axis":{"title":"Intensity (arbitrary scale)","values":[0,2,4,6,8,10,12,14],"format":"d","labelFlush":false,"labelPadding":17,"titlePadding":21}},
"color":{"field":"s","type":"nominal","scale":{"domain":["B0V","A0V","G5V","K3V","M2V"],"range":["#0000ff","#e69f00","#00ff00","#ff0000","#000000"]},"legend":{"title":null,"orient":"none","legendX":558,"legendY":7.5,"symbolType":"M-4,0H4","symbolSize":144,"symbolStrokeWidth":1,"labelAlign":"right","labelOffset":-47,"labelFontSize":17,"labelFont":"Liberation Sans","labelColor":"black","rowPadding":0.5}}
}},
{"mark":{"type":"point","opacity":0},
"transform":[{"filter":"datum.w == 14000 && datum.s == 'M2V'"}],
"encoding":{
"x":{"field":"w","type":"quantitative","axis":{"orient":"top","labels":false,"grid":false,"title":null,"values":[2000,4000,6000,8000,10000,12000,14000]}},
"y":{"field":"f","type":"quantitative","axis":{"orient":"right","labels":false,"grid":false,"title":null,"values":[0,2,4,6,8,10,12,14]}}
}}
],
"resolve":{"axis":{"x":"independent","y":"independent"}},
"config":{
"font":"Liberation Sans",
"view":{"stroke":"black","strokeWidth":1},
"axis":{"labelFont":"Liberation Sans","labelFontSize":17,"labelColor":"black","titleFont":"Liberation Sans","titleFontSize":18,"titleFontWeight":"normal","titleColor":"black","domain":false,"tickColor":"black","tickSize":-6,"gridColor":"#b0b0b0","gridDash":[2,3],"gridWidth":1}
}
}
